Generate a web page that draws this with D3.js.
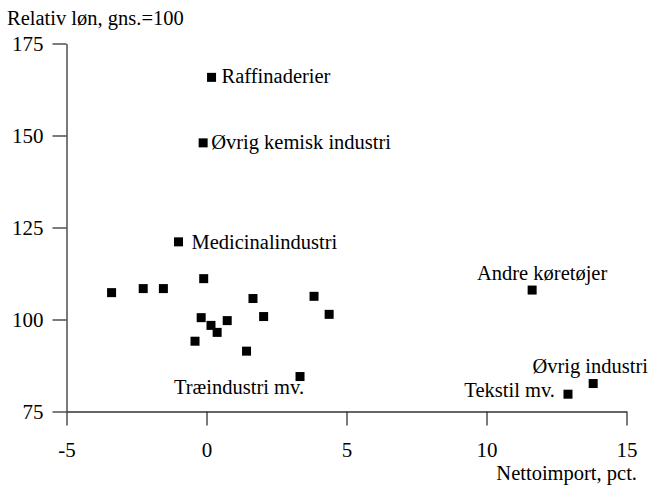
<!DOCTYPE html>
<html>
<head>
<meta charset="utf-8">
<script src="https://cdn.jsdelivr.net/npm/d3@7"></script>
</head>
<body style="margin:0;background:#fff">
<svg id="chart" width="650" height="485"></svg>
<script>
// branchedata: nettoimport (pct.) og relativ løn (gns.=100)
var branche = ["Raffinaderier", "Øvrig kemisk industri", "Medicinalindustri", "Andre køretøjer",
    "Øvrig industri", "Tekstil mv.", "Træindustri mv.",
    "", "", "", "", "", "", "", "", "", "", "", "", "", ""];
var nettoimport = [0.18, -0.12, -1.0, 11.63, 13.81, 12.91, 3.34,
    -3.39, -2.26, -1.54, -0.10, -0.19, 0.16, 0.38, 0.74, -0.41, 1.66, 2.04, 1.43, 3.84, 4.38];
var relativLoen = [165.8, 148.0, 121.1, 108.0, 82.6, 79.7, 84.5,
    107.3, 108.4, 108.4, 111.1, 100.5, 98.4, 96.5, 99.7, 94.1, 105.7, 100.8, 91.4, 106.3, 101.4];

var xTicks = [-5, 0, 5, 10, 15];
var yTicks = [75, 100, 125, 150, 175];

// placering af tekst i forhold til punktet (px): dx, dy, anchor
var labelPos = {
    "Raffinaderier": [10, 6, "start"],
    "Øvrig kemisk industri": [8, 6, "start"],
    "Medicinalindustri": [13, 7, "start"],
    "Andre køretøjer": [10, -10, "middle"],
    "Øvrig industri": [-3, -11, "middle"],
    "Tekstil mv.": [-13, 3, "end"],
    "Træindustri mv.": [-61, 17, "middle"]
};

var fontName = "Liberation Serif";
var svg = d3.select("#chart");

var xScale = d3.scaleLinear().domain([-5, 15]).range([66.5, 626.5]);
var yScale = d3.scaleLinear().domain([75, 175]).range([411.5, 43.5]);

var xAxis = d3.axisBottom(xScale).tickValues(xTicks).tickSize(14).tickSizeOuter(0).tickPadding(17)
    .tickFormat(function(d) { return String(d); });
var yAxis = d3.axisLeft(yScale).tickValues(yTicks).tickSize(14).tickSizeOuter(0).tickPadding(9)
    .tickFormat(function(d) { return String(d); });

var gx = svg.append("g")
    .attr("transform", "translate(0," + yScale(75) + ")")
    .call(xAxis);
var gy = svg.append("g")
    .attr("transform", "translate(" + xScale(-5) + ",0)")
    .call(yAxis);

[gx, gy].forEach(function(g) {
    g.attr("font-family", fontName).attr("font-size", 21);
    g.selectAll("path, line").attr("stroke", "#333").attr("stroke-width", 1.3);
    g.selectAll("text").attr("fill", "#000");
});

svg.append("text")
    .attr("x", 7)
    .attr("y", 25)
    .attr("font-family", fontName)
    .attr("font-size", 20.5)
    .text("Relativ løn, gns.=100");

svg.append("text")
    .attr("x", 637)
    .attr("y", 480)
    .attr("text-anchor", "end")
    .attr("font-family", fontName)
    .attr("font-size", 20.5)
    .text("Nettoimport, pct.");

var size = 9;
svg.selectAll("rect.pt")
    .data(nettoimport)
    .enter()
    .append("rect")
    .attr("class", "pt")
    .attr("x", function(d) { return xScale(d) - size / 2; })
    .attr("y", function(d, i) { return yScale(relativLoen[i]) - size / 2; })
    .attr("width", size)
    .attr("height", size)
    .attr("fill", "#000");

svg.selectAll("text.lbl")
    .data(branche.filter(function(b) { return b !== ""; }))
    .enter()
    .append("text")
    .attr("class", "lbl")
    .attr("x", function(d) { var i = branche.indexOf(d); return xScale(nettoimport[i]) + labelPos[d][0]; })
    .attr("y", function(d) { var i = branche.indexOf(d); return yScale(relativLoen[i]) + labelPos[d][1]; })
    .attr("text-anchor", function(d) { return labelPos[d][2]; })
    .attr("font-family", fontName)
    .attr("font-size", 20.5)
    .text(function(d) { return d; });
</script>
</body>
</html>
